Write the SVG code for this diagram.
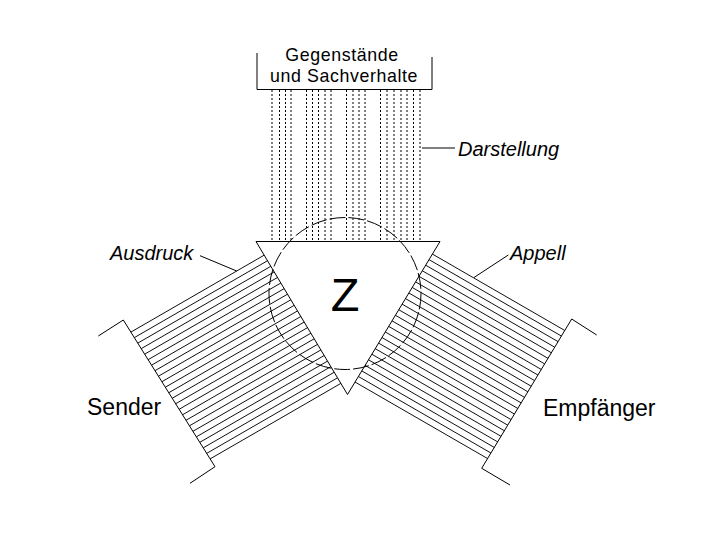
<svg xmlns="http://www.w3.org/2000/svg" xmlns:xlink="http://www.w3.org/1999/xlink" width="720" height="540" viewBox="0 0 720 540">
<style>
.ln{fill:none;stroke:#000;stroke-width:1}
.hatch{fill:none;stroke:#000;stroke-width:0.85}
.dot{fill:none;stroke:#000;stroke-width:1;stroke-dasharray:2 2}
.circ{fill:none;stroke:#000;stroke-width:1;stroke-dasharray:16 3}
.lab{font-family:"Liberation Sans",Arial,sans-serif;fill:#000}
.it{font-style:italic;font-size:20px}
.big{font-size:23px}
.top{font-size:17.8px;letter-spacing:0.6px;text-anchor:middle}
</style>
<defs>
<path id="hatch" d="M0,0H180M0,6.5H180M0,13H180M0,19.5H180M0,26H180M0,32.5H180M0,39H180M0,45.5H180M0,52H180M0,58.5H180M0,65H180M0,71.5H180M0,78H180M0,84.5H180M0,91H180M0,97.5H180M0,104H180M0,110.5H180M0,117H180M0,123.5H180M0,130H180M0,136.5H180M0,143H180M0,149.5H180"/>
<clipPath id="clipL"><polygon points="73,-64.5 530.5,700.5 -100,700.5 -100,-64.5"/></clipPath>
<clipPath id="clipR"><polygon points="625,-64.5 162.5,700.5 820,700.5 820,-64.5"/></clipPath>
</defs>
<rect width="720" height="540" fill="#fff"/>

<g id="gegenstaende">
<path class="ln" d="M257,53V89.5H432V57"/>
<text class="lab top" x="342" y="61">Gegenstände</text>
<text class="lab top" x="344" y="81.7">und Sachverhalte</text>
</g>

<g id="darstellung">
<path class="dot" d="M272,90V241M279.5,90V241M285.5,90V241M291,90V241M306.5,90V241M312.5,90V241M318.5,90V241M325,90V241M331,90V241M346.5,90V241M353,90V241M359,90V241M365,90V241M380.5,90V241M387,90V241M394,90V241M401,90V241M407,90V241M413.5,90V241M420,90V241"/>
<text class="lab it" x="458" y="155.7">Darstellung</text>
</g>

<g id="sender">
<g clip-path="url(#clipL)"><use xlink:href="#hatch" class="hatch" transform="matrix(0.866,-0.5,0.53,0.848,130.9,332.1)"/></g>
<polyline class="ln" points="98.3,336 123.3,320 215,466.7 190,483.3"/>
<text class="lab big" x="87" y="415">Sender</text>
<text class="lab it" x="110" y="260">Ausdruck</text>
</g>

<g id="empfaenger">
<g clip-path="url(#clipR)"><use xlink:href="#hatch" class="hatch" transform="matrix(-0.866,-0.5,-0.516,0.857,564.8,330.5)"/></g>
<polyline class="ln" points="596.7,335 571.7,319 481.7,468.3 510,485"/>
<text class="lab big" x="543" y="416">Empfänger</text>
<text class="lab it" x="510" y="260">Appell</text>
</g>

<g id="zeichen">
<circle class="circ" cx="345" cy="293.5" r="76"/>
<polygon class="ln" points="256,241.5 440,241.5 347.5,394.5"/>
<text class="lab" x="345" y="311" font-size="47" text-anchor="middle">Z</text>
</g>

<g id="connectors">
<line class="ln" x1="422" y1="148" x2="455" y2="148"/>
<line class="ln" x1="200" y1="255.7" x2="236.7" y2="271"/>
<line class="ln" x1="508.3" y1="255" x2="474" y2="277.5"/>
</g>
</svg>
